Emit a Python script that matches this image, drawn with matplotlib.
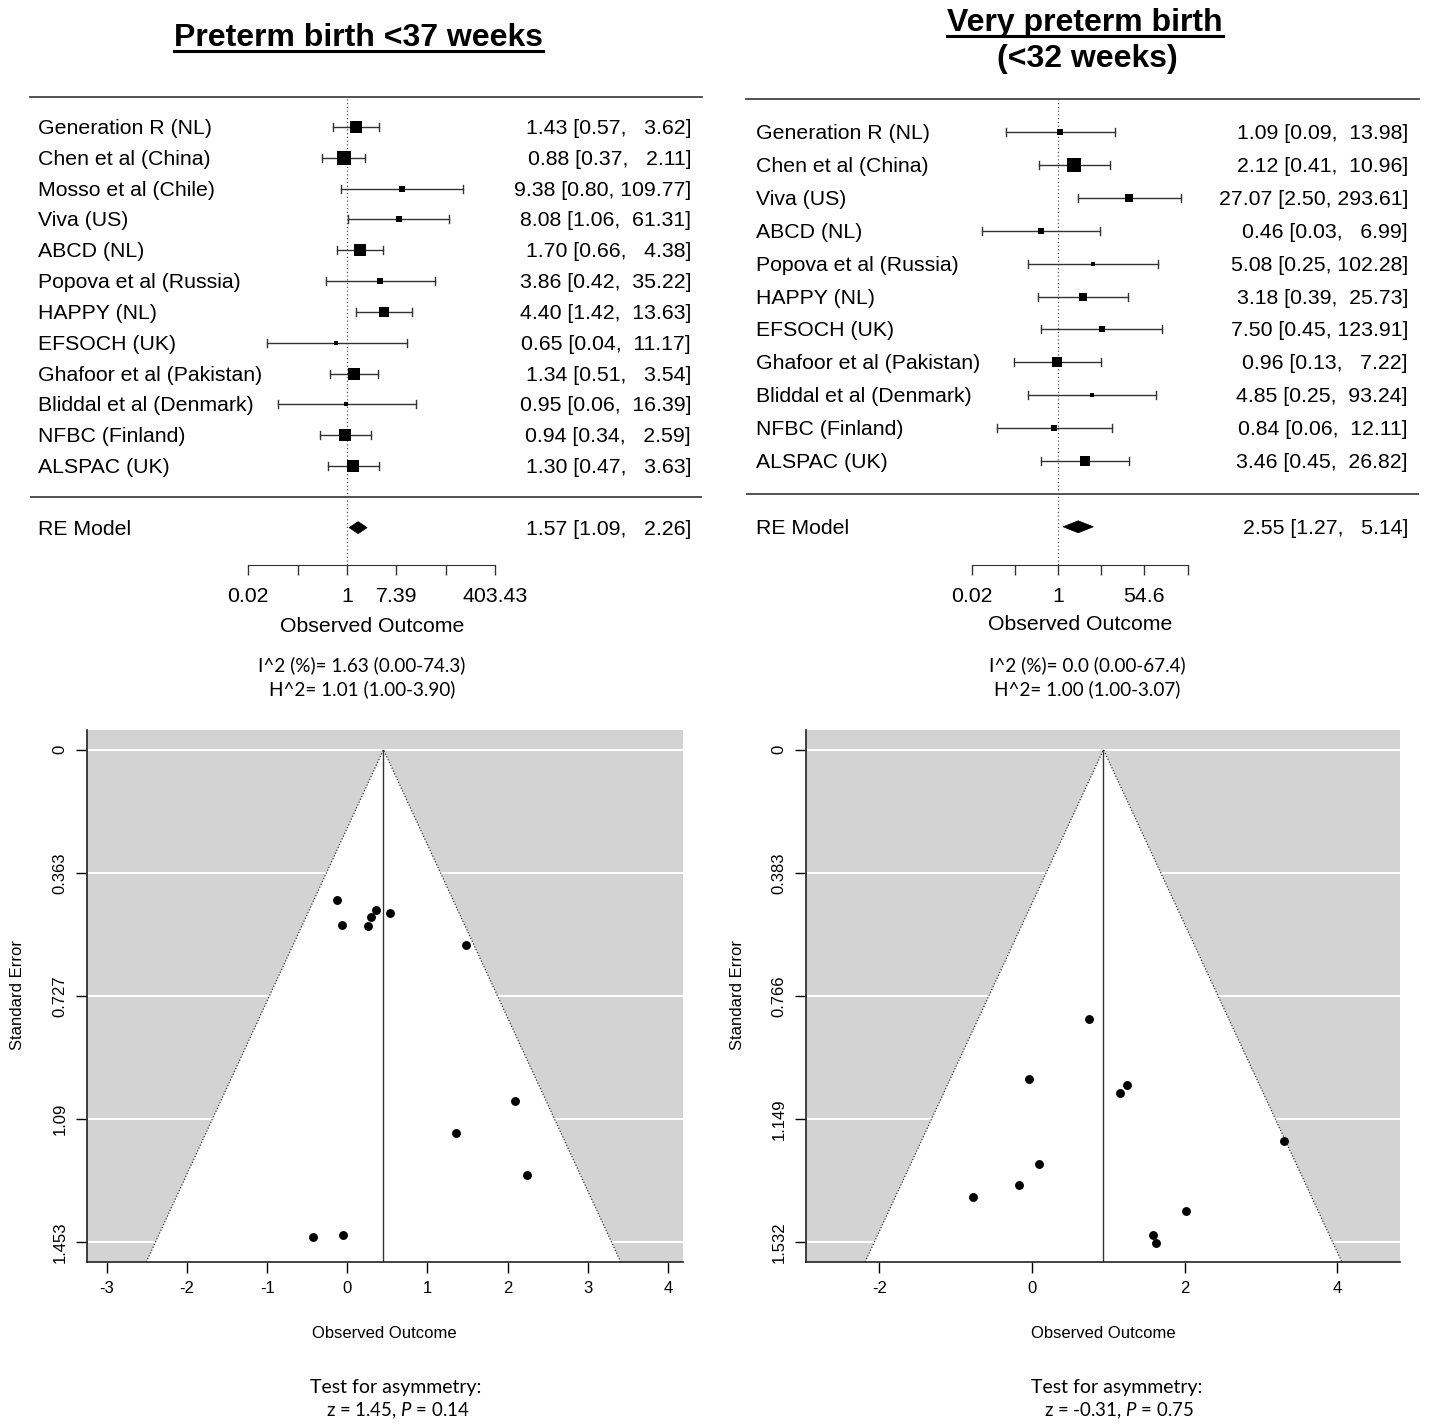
import numpy as np
import matplotlib
matplotlib.use("Agg")
import matplotlib.pyplot as plt
from matplotlib.lines import Line2D
from matplotlib.patches import Polygon

W, H, DPI = 1429, 1424, 100

# ---------------------------------------------------------------- data: preterm birth <37 weeks
pt_studies = ["Generation R (NL)", "Chen et al (China)", "Mosso et al (Chile)", "Viva (US)",
              "ABCD (NL)", "Popova et al (Russia)", "HAPPY (NL)", "EFSOCH (UK)",
              "Ghafoor et al (Pakistan)", "Bliddal et al (Denmark)", "NFBC (Finland)", "ALSPAC (UK)"]
pt_or = [1.43, 0.88, 9.38, 8.08, 1.70, 3.86, 4.40, 0.65, 1.34, 0.95, 0.94, 1.30]
pt_lo = [0.57, 0.37, 0.80, 1.06, 0.66, 0.42, 1.42, 0.04, 0.51, 0.06, 0.34, 0.47]
pt_hi = [3.62, 2.11, 109.77, 61.31, 4.38, 35.22, 13.63, 11.17, 3.54, 16.39, 2.59, 3.63]
pt_re = [1.57, 1.09, 2.26]
pt_xtick_labels = ["0.02", "", "1", "7.39", "", "403.43"]
pt_het = ["I^2 (%)= 1.63 (0.00-74.3)", "H^2= 1.01 (1.00-3.90)"]
pt_se_ticks = [0, 0.363, 0.727, 1.09, 1.453]
pt_se_labels = ["0", "0.363", "0.727", "1.09", "1.453"]
pt_fun_xticks = [-3, -2, -1, 0, 1, 2, 3, 4]
pt_test = ["1.45", "0.14"]

# ---------------------------------------------------------------- data: very preterm birth <32 weeks
vp_studies = ["Generation R (NL)", "Chen et al (China)", "Viva (US)", "ABCD (NL)",
              "Popova et al (Russia)", "HAPPY (NL)", "EFSOCH (UK)", "Ghafoor et al (Pakistan)",
              "Bliddal et al (Denmark)", "NFBC (Finland)", "ALSPAC (UK)"]
vp_or = [1.09, 2.12, 27.07, 0.46, 5.08, 3.18, 7.50, 0.96, 4.85, 0.84, 3.46]
vp_lo = [0.09, 0.41, 2.50, 0.03, 0.25, 0.39, 0.45, 0.13, 0.25, 0.06, 0.45]
vp_hi = [13.98, 10.96, 293.61, 6.99, 102.28, 25.73, 123.91, 7.22, 93.24, 12.11, 26.82]
vp_re = [2.55, 1.27, 5.14]
vp_xtick_labels = ["0.02", "", "1", "", "54.6", ""]
vp_het = ["I^2 (%)= 0.0 (0.00-67.4)", "H^2= 1.00 (1.00-3.07)"]
vp_se_ticks = [0, 0.383, 0.766, 1.149, 1.532]
vp_se_labels = ["0", "0.383", "0.766", "1.149", "1.532"]
vp_fun_xticks = [-2, 0, 2, 4]
vp_test = ["-0.31", "0.75"]

log_ticks = [-4, -2, 0, 2, 4, 6]

plt.rcParams["font.family"] = ["Liberation Sans", "DejaVu Sans"]
plt.rcParams["mathtext.fontset"] = "custom"
plt.rcParams["mathtext.rm"] = "Lato"
plt.rcParams["mathtext.it"] = "Lato:italic"
BODY = 15.3
CAL = ["Lato", "DejaVu Sans"]

fig = plt.figure(figsize=(W / DPI, H / DPI), dpi=DPI)


def fx(px):
    return px / W


def fy(py):
    return 1 - py / H


def axes_px(l, t, r, b):
    return fig.add_axes([fx(l), fy(b), (r - l) / W, (b - t) / H])


def yi_sei(ors, los, his):
    yi = np.log(np.array(ors))
    sei = (np.log(np.array(his)) - np.log(np.array(los))) / (2 * 1.96)
    return yi, sei


# ---------------------------------------------------------------- FOREST
def forest(studies, ors, los, his, re, xlabs, x0, ppu, rule_l, rule_r, top_px,
           row_top, row_bot, axis_px, lab_px, est_px):
    k = len(studies)
    sp = (row_bot - row_top) / (k - 1)
    ax = axes_px(rule_l, top_px, rule_r, axis_px)
    ytop = k + (row_top - top_px) / sp
    ybot = 1 - (axis_px - row_bot) / sp
    ax.set_xlim((rule_l - x0) / ppu, (rule_r - x0) / ppu)
    ax.set_ylim(ybot, ytop)
    for s in ["top", "right", "left"]:
        ax.spines[s].set_visible(False)
    ax.spines["bottom"].set_bounds(log_ticks[0], log_ticks[-1])
    ax.spines["bottom"].set_color("#333333")
    ax.set_xticks(log_ticks)
    ax.set_xticklabels(xlabs, fontsize=BODY)
    ax.tick_params(axis="x", length=7.5, width=1, color="#333333", pad=8)
    ax.set_yticks([])
    ax.patch.set_visible(False)

    ax.plot([ax.get_xlim()[0], ax.get_xlim()[1]], [ytop, ytop], color="#444444", lw=1.3, clip_on=False)
    ax.plot([ax.get_xlim()[0], ax.get_xlim()[1]], [0, 0], color="#444444", lw=1.3)
    ax.plot([0, 0], [ybot, ytop], ls=(0, (1, 2)), color="#555555", lw=0.9, clip_on=False)

    yi, sei = yi_sei(ors, los, his)
    w = 1 / sei ** 2
    psize = (w - w.min()) / (w.max() - w.min()) + 0.5
    cap = 4.0 / sp
    dy = 1.5 / sp
    lab_x = (lab_px - x0) / ppu
    est_x = (est_px - x0) / ppu
    for i in range(k):
        y = k - i
        lo, hi = np.log(los[i]), np.log(his[i])
        ax.plot([lo, hi], [y, y], color="#333333", lw=1.0)
        ax.plot([lo, lo], [y - cap, y + cap], color="#333333", lw=1.0)
        ax.plot([hi, hi], [y - cap, y + cap], color="#333333", lw=1.0)
        ax.plot(yi[i], y, "s", color="black", ms=6.8 * psize[i], mew=0)
        ax.text(lab_x, y - dy, studies[i], fontsize=BODY, va="center", ha="left", clip_on=False)
        ax.text(est_x, y - dy, f"{ors[i]:.2f} [{los[i]:.2f}, {his[i]:>6.2f}]", fontsize=BODY,
                va="center", ha="right", clip_on=False)

    h = 6.0 / sp
    e, lo, hi = np.log(re)
    ax.add_patch(Polygon([(lo, -1), (e, -1 + h), (hi, -1), (e, -1 - h)], closed=True,
                         fc="black", ec="black", lw=0.5))
    ax.text(lab_x, -1 - dy, "RE Model", fontsize=BODY, va="center", ha="left", clip_on=False)
    ax.text(est_x, -1 - dy, f"{re[0]:.2f} [{re[1]:.2f}, {re[2]:>6.2f}]", fontsize=BODY,
            va="center", ha="right", clip_on=False)
    return ax


forest(pt_studies, pt_or, pt_lo, pt_hi, pt_re, pt_xtick_labels, x0=347, ppu=24.7,
       rule_l=30, rule_r=702, top_px=97, row_top=127, row_bot=466, axis_px=565,
       lab_px=38, est_px=691)
forest(vp_studies, vp_or, vp_lo, vp_hi, vp_re, vp_xtick_labels, x0=1058, ppu=21.6,
       rule_l=746, rule_r=1419, top_px=99, row_top=132, row_bot=461, axis_px=565,
       lab_px=756, est_px=1408)

fig.text(fx(372), fy(626), "Observed Outcome", fontsize=BODY, ha="center", va="center")
fig.text(fx(1080), fy(625), "Observed Outcome", fontsize=BODY, ha="center", va="center")
for j, line in enumerate(pt_het):
    fig.text(fx(362), fy(665 + 24 * j), line, fontsize=13.6, family=CAL, ha="center", va="center")
for j, line in enumerate(vp_het):
    fig.text(fx(1087), fy(665 + 24 * j), line, fontsize=13.6, family=CAL, ha="center", va="center")

# titles
t1 = fig.text(fx(358), fy(46), "Preterm birth <37 weeks", fontsize=23, weight="bold",
              ha="center", va="baseline")
t2 = fig.text(fx(1085), fy(31), "Very preterm birth", fontsize=23, weight="bold",
              ha="center", va="baseline")
fig.text(fx(1087), fy(67), "(<32 weeks)", fontsize=23, weight="bold", ha="center", va="baseline")


# ---------------------------------------------------------------- FUNNEL
def funnel(box, ors, los, his, re, xlim, se_ticks, se_labels, xticks):
    ax = axes_px(*box)
    yi, sei = yi_sei(ors, los, his)
    c = np.log(re[0])
    ymax = se_ticks[-1]
    yb = ymax * 1.04
    ax.set_xlim(*xlim)
    ax.set_ylim(yb, -ymax * 0.04)
    ax.set_facecolor("#d3d3d3")
    for t in se_ticks:
        ax.axhline(t, color="white", lw=1.5, zorder=0.5)
    ax.add_patch(Polygon([(c - 1.96 * yb, yb), (c, 0), (c + 1.96 * yb, yb)], closed=True,
                         fc="white", ec="none", zorder=1))
    ax.plot([c - 1.96 * yb, c, c + 1.96 * yb], [yb, 0, yb], ls=(0, (1, 1.5)),
            color="#333333", lw=0.9, zorder=2)
    ax.plot([c, c], [0, yb], color="#333333", lw=1.0, zorder=2)
    ax.plot(yi, sei, "o", color="black", ms=6.4, mew=0, zorder=3)
    for s in ["top", "right"]:
        ax.spines[s].set_visible(False)
    for s in ["left", "bottom"]:
        ax.spines[s].set_color("#222222")
        ax.spines[s].set_linewidth(1.2)
    ax.set_yticks(se_ticks)
    ax.set_yticklabels(se_labels, fontsize=12)
    for lab in ax.get_yticklabels():
        lab.set_rotation(90)
        lab.set_va("center")
    ax.set_xticks(xticks)
    ax.set_xticklabels([str(v) for v in xticks], fontsize=12)
    ax.tick_params(axis="y", length=8, width=1, pad=6)
    ax.tick_params(axis="x", length=8, width=1, pad=6)
    return ax


funnel((87, 730, 683, 1262), pt_or, pt_lo, pt_hi, pt_re, (-3.25, 4.19),
       pt_se_ticks, pt_se_labels, pt_fun_xticks)
funnel((806, 730, 1400, 1262), vp_or, vp_lo, vp_hi, vp_re, (-2.96, 4.82),
       vp_se_ticks, vp_se_labels, vp_fun_xticks)

for cx, ylx, tx, test in [(384, 18, 396, pt_test), (1103, 738, 1117, vp_test)]:
    fig.text(fx(cx), fy(1333), "Observed Outcome", fontsize=12, ha="center", va="center")
    fig.text(fx(ylx), fy(995), "Standard Error", fontsize=12, rotation=90, ha="center", va="center")
    fig.text(fx(tx), fy(1388), "Test for asymmetry:", fontsize=14, family=CAL,
             ha="center", va="center")
    fig.text(fx(tx + 2), fy(1411), f"z = {test[0]}, $\\mathit{{P}}$ = {test[1]}", fontsize=13.4,
             family=CAL, ha="center", va="center")

# underline the titles
fig.canvas.draw()
r = fig.canvas.get_renderer()
for t, upx in [(t1, 51), (t2, 36)]:
    bb = t.get_window_extent(renderer=r)
    fig.add_artist(Line2D([bb.x0 / W, bb.x1 / W], [fy(upx), fy(upx)], color="black", lw=2.2,
                          transform=fig.transFigure))

fig.savefig("out.png", dpi=DPI)
